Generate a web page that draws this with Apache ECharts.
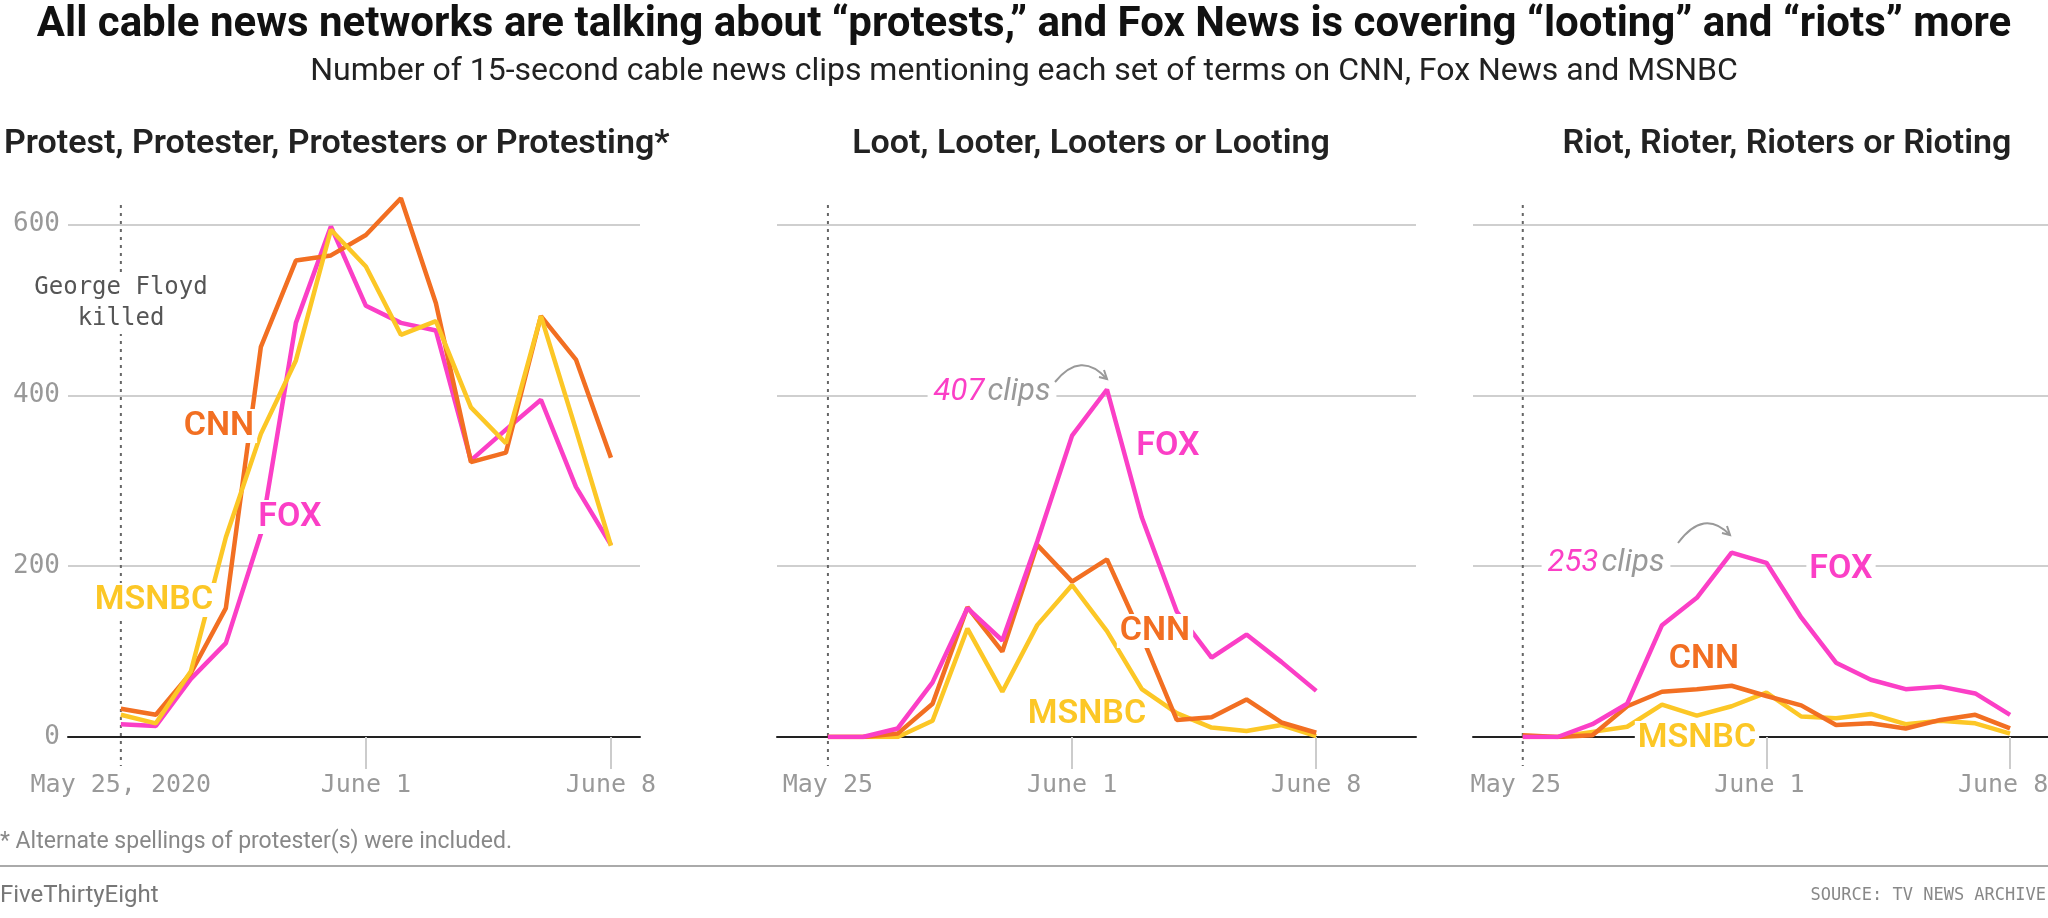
<!DOCTYPE html>
<html><head><meta charset="utf-8">
<script src="https://cdn.jsdelivr.net/npm/echarts@6/dist/echarts.min.js"></script>
<style>html,body{margin:0;padding:0;background:#fff}#chart{width:2048px;height:918px}</style>
</head><body><div id="chart"></div>
<script>
// days since May 25, 2020 (May 25 .. June 8)
var days = [0,1,2,3,4,5,6,7,8,9,10,11,12,13,14];
var tickDays = [0,7,14];
var tickNames = {0:'May 25',7:'June 1',14:'June 8'};

var protestCNN   = [33,26,75,151,457,558,564,588,631,508,322,333,493,442,327];
var protestFOX   = [15,13,68,110,238,485,598,505,485,476,324,360,395,293,225];
var protestMSNBC = [26,16,77,234,355,441,594,551,471,487,386,344,493,360,224];

var lootCNN   = [0,0,4,39,152,100,225,182,208,118,20,23,44,17,5];
var lootFOX   = [0,0,10,64,151,113,229,353,407,257,147,93,120,88,54];
var lootMSNBC = [0,0,0,19,127,53,131,178,124,56,28,11,7,14,1];

var riotCNN   = [2,0,2,36,53,56,60,48,37,14,16,10,20,26,10];
var riotFOX   = [0,0,15,39,131,163,216,204,140,87,67,56,59,51,26];
var riotMSNBC = [0,0,6,12,38,25,36,52,24,22,27,15,19,16,4];

var colCNN='#f26f22', colFOX='#fb3fc6', colMSNBC='#fcc726';
var mono='"DejaVu Sans Mono", monospace', sans='Roboto, "Noto Sans", sans-serif';

var panels = [
  {left:68, width:572, min:-1.51, max:14.83, data:[protestCNN,protestFOX,protestMSNBC], ylab:true, first:true},
  {left:777, width:639, min:-1.46, max:16.86, data:[lootCNN,lootFOX,lootMSNBC]},
  {left:1473, width:575, min:-1.43, max:15.09, data:[riotCNN,riotFOX,riotMSNBC], pad:true}
];

var grids=[], xAxes=[], yAxes=[], series=[];
panels.forEach(function(p,i){
  grids.push({left:p.left, width:p.width, top:182, bottom:181, outerBoundsMode:'none', containLabel:false});
  xAxes.push({type:'value', gridIndex:i, min:p.min, max:p.max,
    axisLine:{show:true, onZero:true, lineStyle:{color:'#222', width:2}},
    axisTick:{show:true, customValues:[7,14], length:32, lineStyle:{color:'#ccc', width:2}},
    axisLabel:{customValues:tickDays, margin:36, color:'#999', fontFamily:mono, fontSize:25,
      padding: p.pad ? [0,14,0,0] : 0,
      formatter:function(v){ return (p.first && v===0) ? 'May 25, 2020' : tickNames[v]; }},
    splitLine:{show:false}});
  yAxes.push({type:'value', gridIndex:i, min:0, max:650, interval:200,
    axisLine:{show:false}, axisTick:{show:false},
    axisLabel:{show:!!p.ylab, color:'#999', fontFamily:mono, fontSize:26, margin:8, showMaxLabel:false},
    splitLine:{showMaxLine:false, lineStyle:{color:'#cfcfcf', width:2}}});
  var cols=[colCNN,colFOX,colMSNBC], names=['CNN','FOX','MSNBC'];
  var order = i===0 ? [1,0,2] : [2,0,1];
  order.forEach(function(k){
    series.push({type:'line', name:names[k], xAxisIndex:i, yAxisIndex:i, showSymbol:false, silent:true,
      lineStyle:{color:cols[k], width:4.5}, z:5,
      data:days.map(function(d,j){ return [d, p.data[k][j]]; })});
  });
});

var chart = echarts.init(document.getElementById('chart'));

function lab(t,x,y,col){
  return {type:'text', x:x, y:y, z:20, style:{text:t, fill:col, font:'600 34px '+sans,
    backgroundColor:'#fff', padding:[0,3], align:'center', verticalAlign:'middle'}};
}
function txt(t,x,y,font,col,align){
  return {type:'text', x:x, y:y, z:20, style:{text:t, fill:col, font:font, align:align||'left', verticalAlign:'middle'}};
}

chart.setOption({
  animation:false,
  grid:grids, xAxis:xAxes, yAxis:yAxes, series:series
});

var g = [
  txt('All cable news networks are talking about \u201cprotests,\u201d and Fox News is covering \u201clooting\u201d and \u201criots\u201d more',1024,25,'bold 42px '+sans,'#111','center'),
  txt('Number of 15-second cable news clips mentioning each set of terms on CNN, Fox News and MSNBC',1024,72,'32px '+sans,'#222','center'),
  txt('Protest, Protester, Protesters or Protesting*',4,144,'600 34px '+sans,'#222','left'),
  txt('Loot, Looter, Looters or Looting',1091,144,'600 34px '+sans,'#222','center'),
  txt('Riot, Rioter, Rioters or Rioting',1787,144,'600 34px '+sans,'#222','center'),
  txt('* Alternate spellings of protester(s) were included.',0,842,'23px '+sans,'#888','left'),
  {type:'line', shape:{x1:0,y1:866,x2:2048,y2:866}, style:{stroke:'#aaa', lineWidth:2}},
  txt('FiveThirtyEight',0,896,'24px '+sans,'#777','left'),
  txt('SOURCE: TV NEWS ARCHIVE',2046,896,'17px '+mono,'#888','right')
];
// dotted "George Floyd killed" markers
panels.forEach(function(p,i){
  var px = chart.convertToPixel({xAxisIndex:i}, 0);
  g.push({type:'line', z:3, shape:{x1:px,y1:205,x2:px,y2:766}, style:{stroke:'#666', lineWidth:2, lineDash:[3,5]}});
});
g.push({type:'text', x:121, y:303, z:21, style:{text:'George Floyd\nkilled', fill:'#555', font:'24px '+mono, align:'center', verticalAlign:'middle', lineHeight:31, backgroundColor:'#fff'}});
g.push(lab('CNN',219,426,colCNN), lab('FOX',290,517,colFOX), lab('MSNBC',154,600,colMSNBC));
g.push(lab('FOX',1168,446,colFOX), lab('CNN',1155,631,colCNN), lab('MSNBC',1087,714,colMSNBC));
g.push(lab('FOX',1841,569,colFOX), lab('CNN',1704,659,colCNN), lab('MSNBC',1697,738,colMSNBC));
// clip annotations
function note(num,x,y){
  return {type:'text', x:x, y:y, z:20, style:{rich:{n:{fill:colFOX,font:'italic 31px '+sans},c:{fill:'#999',font:'italic 31px '+sans}},
    text:'{n|'+num+'} {c|clips}', align:'center', verticalAlign:'middle', backgroundColor:'#fff', padding:[0,6]}};
}
function arrow(x1,y1,cx,cy,x2,y2){
  return [{type:'bezierCurve', z:20, shape:{x1:x1,y1:y1,cpx1:cx,cpy1:cy,x2:x2,y2:y2}, style:{stroke:'#999', lineWidth:2, fill:null}},
    {type:'polyline', z:20, shape:{points:[[x2-8,y2-2],[x2,y2],[x2-3,y2-9]]}, style:{stroke:'#999', lineWidth:2, fill:null}}];
}
g.push(note('407',992,392));
g = g.concat(arrow(1055,382,1081,350,1107,379));
g.push(note('253',1606,563));
g = g.concat(arrow(1678,543,1704,508,1730,535));
chart.setOption({graphic:g});
</script></body></html>
